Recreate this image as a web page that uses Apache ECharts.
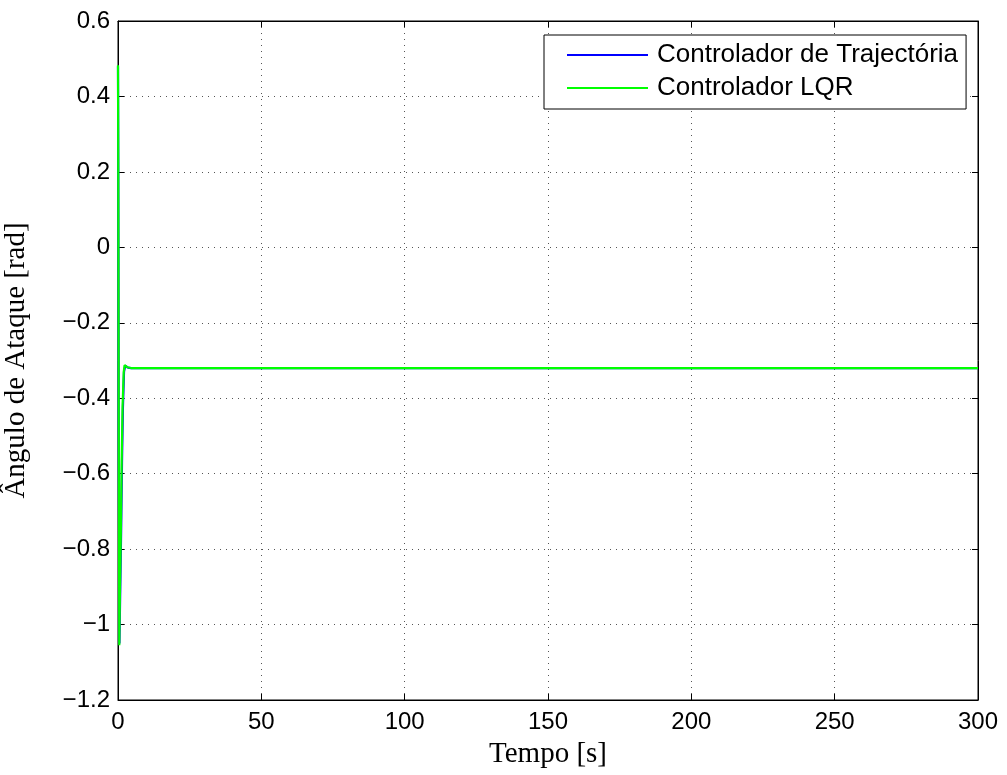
<!DOCTYPE html>
<html>
<head>
<meta charset="utf-8">
<script src="https://cdn.jsdelivr.net/npm/echarts@6/dist/echarts.min.js"></script>
<style>
  html, body { margin: 0; padding: 0; background: #fff; }
  #chart { width: 1007px; height: 775px; }
</style>
</head>
<body>
<div id="chart"></div>
<script>
// Angle of attack response for the two controllers
const seriesNames = ['Controlador de Trajectória', 'Controlador LQR'];
const trajTime  = [0, 0.1, 0.25, 0.5, 0.8, 1.1, 1.4, 1.7, 2.1, 2.5, 3.0, 3.5, 4.5, 6, 10, 50, 100, 150, 200, 250, 300];
const trajAngle = [0.48, 0.2, -0.45, -1.05, -0.9, -0.75, -0.57, -0.43, -0.33, -0.314, -0.316, -0.319, -0.32, -0.32, -0.32, -0.32, -0.32, -0.32, -0.32, -0.32, -0.32];
const lqrTime   = [0, 0.1, 0.25, 0.45, 0.7, 1.0, 1.3, 1.6, 2.0, 2.3, 2.8, 3.3, 4.5, 6, 10, 50, 100, 150, 200, 250, 300];
const lqrAngle  = [0.483, 0.2, -0.45, -1.055, -0.9, -0.75, -0.56, -0.42, -0.33, -0.312, -0.315, -0.318, -0.32, -0.32, -0.32, -0.32, -0.32, -0.32, -0.32, -0.32, -0.32];
const xTicks = { min: 0, max: 300, interval: 50 };
const yTicks = { min: -1.2, max: 0.6, interval: 0.2 };

const pair = (t, v) => t.map((x, i) => [x, v[i]]);
const fmtY = v => {
  const r = Math.round(v * 10) / 10;
  if (r === 0) return '0';
  return (r < 0 ? '\u2212' : '') + Math.abs(r).toString();
};

const tickFont = { fontFamily: 'Liberation Sans, Arial, sans-serif', fontSize: 24, color: '#000' };
const nameFont = { fontFamily: 'Liberation Serif, Times New Roman, serif', fontSize: 29, color: '#000' };
const dotted = { show: true, lineStyle: { color: '#555', width: 1, type: [1, 5] } };
const blackLine = { show: true, onZero: false, lineStyle: { color: '#000', width: 1 } };
const inTick = { inside: true, length: 6, lineStyle: { color: '#000' } };

const chart = echarts.init(document.getElementById('chart'), null, { renderer: 'canvas' });
chart.setOption({
  animation: false,
  backgroundColor: '#fff',
  grid: {
    left: 118, top: 21, right: 29, bottom: 75,
    outerBoundsMode: 'none', containLabel: false,
    show: true, borderColor: '#000', borderWidth: 1
  },
  legend: {
    orient: 'vertical',
    left: 544, top: 35,
    padding: [5, 8, 6, 23],
    backgroundColor: '#fff',
    borderColor: '#000', borderWidth: 1,
    icon: 'rect',
    itemWidth: 81, itemHeight: 2, itemGap: 3,
    textStyle: { fontFamily: 'Liberation Sans, Arial, sans-serif', fontSize: 26, color: '#000', lineHeight: 30, padding: [0, 0, 0, 4] },
    data: seriesNames
  },
  xAxis: [{
    type: 'value', ...xTicks,
    name: 'Tempo [s]', nameLocation: 'middle', nameGap: 40, nameTextStyle: nameFont,
    axisLine: blackLine, axisTick: inTick,
    axisLabel: { ...tickFont, margin: 10 },
    splitLine: dotted
  }, {
    type: 'value', position: 'top', ...xTicks,
    axisLine: blackLine, axisTick: inTick,
    axisLabel: { show: false }, splitLine: { show: false }
  }],
  yAxis: [{
    type: 'value', ...yTicks,
    name: 'Ângulo de Ataque [rad]', nameLocation: 'middle', nameGap: 87, nameRotate: 90, nameTextStyle: nameFont,
    axisLine: blackLine, axisTick: inTick,
    axisLabel: { ...tickFont, margin: 8, formatter: fmtY },
    splitLine: dotted
  }, {
    type: 'value', position: 'right', ...yTicks,
    axisLine: blackLine, axisTick: inTick,
    axisLabel: { show: false }, splitLine: { show: false }
  }],
  series: [{
    name: seriesNames[0], type: 'line', data: pair(trajTime, trajAngle),
    showSymbol: false, symbol: 'none', color: '#0000ff',
    lineStyle: { color: '#0000ff', width: 2.2 }, z: 2
  }, {
    name: seriesNames[1], type: 'line', data: pair(lqrTime, lqrAngle),
    showSymbol: false, symbol: 'none', color: '#00ff00',
    lineStyle: { color: '#00ff00', width: 2.2 }, z: 3
  }]
});
</script>
</body>
</html>
